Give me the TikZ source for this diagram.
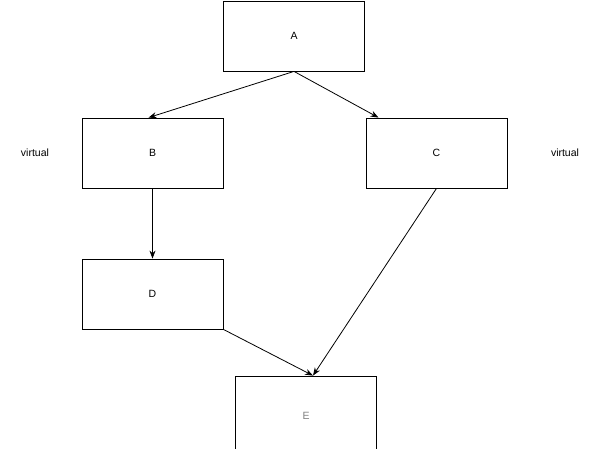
\documentclass[tikz,border=0pt]{standalone}
\usepackage{fontspec}
\setmainfont{Liberation Sans}
\usetikzlibrary{arrows.meta}
\tikzset{
    block/.style={draw, rectangle, line width=0.8pt, minimum width=141pt, minimum height=70pt, inner sep=0pt, font=\fontsize{10.5}{12}\selectfont},
    link/.style={-{Stealth[length=8pt,width=6pt]}, line width=0.8pt},
    tag/.style={font=\fontsize{10.5}{12}\selectfont}
}
\begin{document}
\begin{tikzpicture}[x=1pt,y=-1pt]
    \useasboundingbox (0,0) rectangle (600,448);

    \node[block] (A) at (294,36) {A};
    \node[block] (B) at (152.5,153) {B};
    \node[block] (C) at (436.5,153) {C};
    \node[block] (D) at (152.5,294) {D};
    \node[block, text=gray, minimum height=80pt] (E) at (306,416) {E};
    \node[tag] (vl) at (35,153) {virtual};
    \node[tag] (vr) at (565,153) {virtual};

    \draw[link] (A.south) -- ([xshift=-4pt]B.north);
    \draw[link] (A.south) -- ([xshift=-58pt]C.north);
    \draw[link] (B.south) -- (D.north);
    \draw[link] (D.south east) -- ([xshift=7pt]E.north);
    \draw[link] (C.south) -- ([xshift=7pt]E.north);

  \end{tikzpicture}
\end{document}
